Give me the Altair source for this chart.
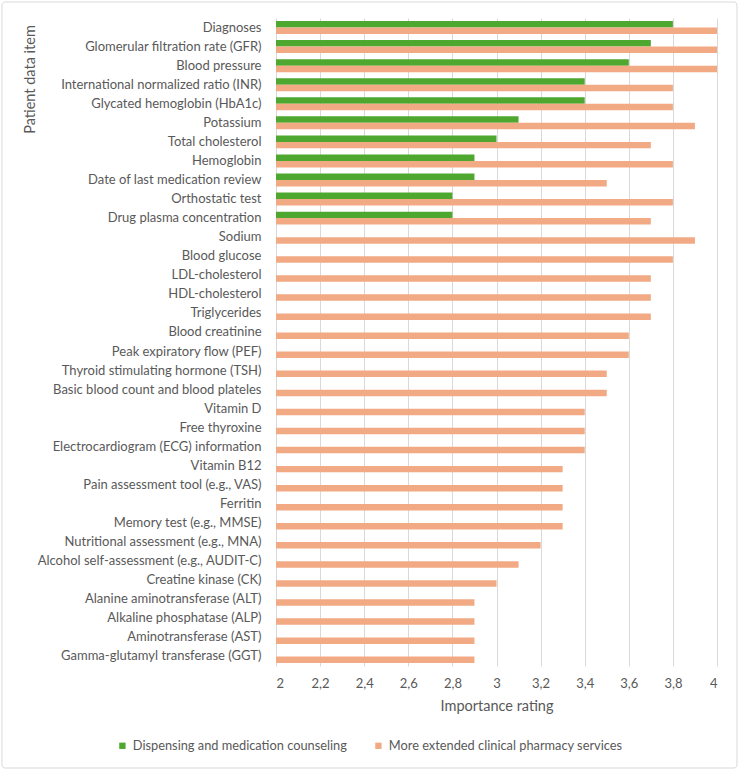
import altair as alt
import pandas as pd

# Patient data items, top to bottom
items = [
    "Diagnoses",
    "Glomerular filtration rate (GFR)",
    "Blood pressure",
    "International normalized ratio (INR)",
    "Glycated hemoglobin (HbA1c)",
    "Potassium",
    "Total cholesterol",
    "Hemoglobin",
    "Date of last medication review",
    "Orthostatic test",
    "Drug plasma concentration",
    "Sodium",
    "Blood glucose\u00a0",
    "LDL-cholesterol",
    "HDL-cholesterol",
    "Triglycerides",
    "Blood creatinine",
    "Peak expiratory flow (PEF)",
    "Thyroid stimulating hormone (TSH)",
    "Basic blood count and blood plateles",
    "Vitamin D",
    "Free thyroxine",
    "Electrocardiogram (ECG) information",
    "Vitamin B12\u00a0",
    "Pain assessment tool (e.g., VAS)",
    "Ferritin\u00a0",
    "Memory test (e.g., MMSE)",
    "Nutritional assessment (e.g., MNA)\u00a0",
    "Alcohol self-assessment (e.g., AUDIT-C)",
    "Creatine kinase (CK)",
    "Alanine aminotransferase (ALT)",
    "Alkaline phosphatase (ALP)",
    "Aminotransferase (AST)",
    "Gamma-glutamyl transferase (GGT)",
]

series_names = [
    "Dispensing and medication counseling",
    "More extended clinical pharmacy services",
]

# Ratings for dispensing / counseling (only the first 11 items were rated)
dispensing = [3.8, 3.7, 3.6, 3.4, 3.4, 3.1, 3.0, 2.9, 2.9, 2.8, 2.8]

# Ratings for extended clinical pharmacy services
extended = [
    4.0, 4.0, 4.0, 3.8, 3.8, 3.9, 3.7, 3.8, 3.5, 3.8, 3.7,
    3.9, 3.8, 3.7, 3.7, 3.7, 3.6, 3.6, 3.5, 3.5, 3.4, 3.4, 3.4,
    3.3, 3.3, 3.3, 3.3, 3.2, 3.1, 3.0, 2.9, 2.9, 2.9, 2.9,
]

x_ticks = [2.0, 2.2, 2.4, 2.6, 2.8, 3.0, 3.2, 3.4, 3.6, 3.8, 4.0]
x_min, x_max = 2, 4

rows = []
for item, v in zip(items, dispensing):
    rows.append({"item": item, "series": series_names[0], "rating": v})
for item, v in zip(items, extended):
    rows.append({"item": item, "series": series_names[1], "rating": v})
df = pd.DataFrame(rows)

FONT = "Lato"
GREY = "#595959"
LABEL_SIZE = 13.0

bars = alt.Chart(df).mark_bar().encode(
    x=alt.X(
        "rating:Q",
        scale=alt.Scale(domain=[x_min, x_max], zero=False, nice=False),
        axis=alt.Axis(
            values=x_ticks,
            labelExpr="replace(format(datum.value, '.2~f'), '.', ',')",
            title="Importance rating",
            grid=True,
            gridColor="#d9d9d9",
            gridWidth=1,
            domain=False,
            ticks=False,
            labelPadding=11,
            labelFontSize=LABEL_SIZE,
            labelColor=GREY,
            labelFont=FONT,
            titleFont=FONT,
            titleFontSize=14.5,
            titleFontWeight="normal",
            titleColor=GREY,
            titlePadding=9,
        ),
    ),
    x2=alt.datum(x_min),
    y=alt.Y(
        "item:N",
        sort=items,
        scale=alt.Scale(paddingInner=0.32, paddingOuter=0.16),
        axis=alt.Axis(
            title="Patient data item",
            domain=False,
            ticks=False,
            grid=False,
            labelPadding=15,
            labelFontSize=LABEL_SIZE,
            labelColor=GREY,
            labelFont=FONT,
            labelLimit=400,
            titleFont=FONT,
            titleFontSize=14.5,
            titleFontWeight="normal",
            titleColor=GREY,
            titleAngle=-90,
            titleAlign="center",
            titleBaseline="middle",
            titleX=-246,
            titleY=61,
        ),
    ),
    yOffset=alt.YOffset(
        "series:N", sort=series_names, scale=alt.Scale(paddingInner=0, paddingOuter=0)
    ),
    color=alt.Color(
        "series:N",
        sort=series_names,
        scale=alt.Scale(domain=series_names, range=["#4ea72e", "#f2aa84"]),
        legend=alt.Legend(
            title=None,
            orient="none",
            direction="horizontal",
            legendX=-160,
            legendY=721,
            symbolType="square",
            symbolSize=40,
            symbolStrokeWidth=0,
            labelFont=FONT,
            labelFontSize=12.8,
            labelColor=GREY,
            labelLimit=400,
            labelOffset=4,
            columnPadding=25,
        ),
    ),
)

# Light frame around the whole figure
frame = alt.Chart(pd.DataFrame({"k": [0]})).mark_rect(
    fill=None, stroke="#d9d9d9", strokeWidth=1, cornerRadius=3
).encode(
    x=alt.value(-274),
    x2=alt.value(461),
    y=alt.value(-16),
    y2=alt.value(750),
)

chart = (
    alt.layer(bars, frame)
    .properties(
        width=441,
        height=648,
        autosize=alt.AutoSizeParams(type="none"),
        padding={"left": 276, "top": 18, "right": 22, "bottom": 105},
        background="white",
    )
    .configure_view(stroke=None)
)

chart.save("out.html", embed_options={"renderer": "svg", "actions": False})
